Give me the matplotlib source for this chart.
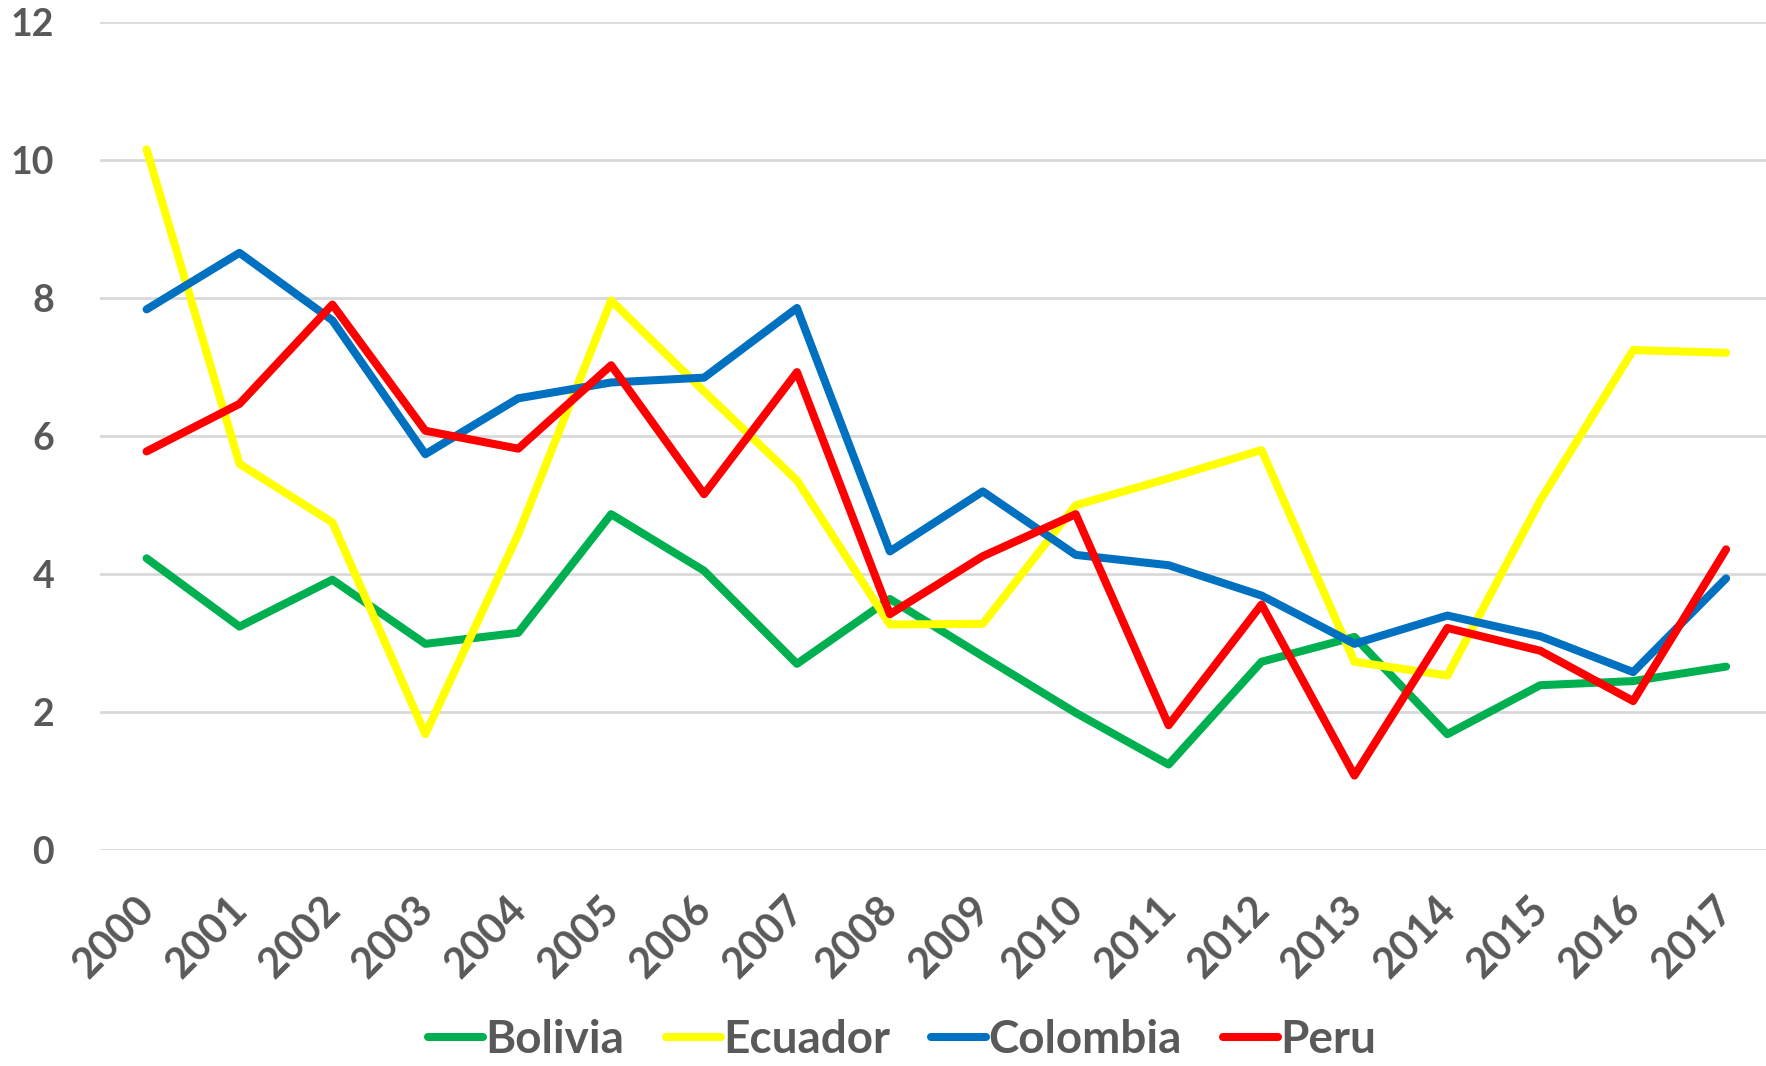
import matplotlib
matplotlib.use("Agg")
import matplotlib.pyplot as plt
import matplotlib.transforms as mtransforms

years = [str(y) for y in range(2000, 2018)]
bolivia = [4.23, 3.24, 3.92, 2.99, 3.15, 4.87, 4.05, 2.70, 3.64, 2.81, 1.99, 1.24, 2.73, 3.09, 1.68, 2.39, 2.45, 2.66]
ecuador = [10.16, 5.60, 4.75, 1.68, 4.58, 7.97, 6.65, 5.36, 3.27, 3.28, 5.00, 5.39, 5.80, 2.73, 2.53, 5.07, 7.25, 7.21]
colombia = [7.84, 8.66, 7.68, 5.74, 6.55, 6.78, 6.85, 7.86, 4.33, 5.20, 4.28, 4.13, 3.69, 2.99, 3.40, 3.10, 2.58, 3.94]
peru = [5.78, 6.47, 7.91, 6.08, 5.82, 7.03, 5.16, 6.93, 3.42, 4.26, 4.87, 1.81, 3.56, 1.08, 3.22, 2.89, 2.16, 4.36]

series = [("Bolivia", bolivia, "#00B050"),
          ("Ecuador", ecuador, "#FFFF00"),
          ("Colombia", colombia, "#0070C0"),
          ("Peru", peru, "#FF0000")]

plt.rcParams['font.family'] = ['Lato', 'DejaVu Sans']
fig = plt.figure(figsize=(17.66, 10.66), dpi=100)
ax = fig.add_axes([0.0567, 0.2026, 0.947, 0.7763])

x = list(range(len(years)))
for name, vals, col in series:
    ax.plot(x, vals, color=col, lw=5.8, solid_capstyle='round', solid_joinstyle='round', label=name)

ax.set_xlim(-0.5, len(years) - 0.5)
ax.set_ylim(0, 12)
ax.set_yticks([0, 2, 4, 6, 8, 10, 12])
ax.set_xticks(x)
ax.set_xticklabels(years, rotation=45, ha='right', rotation_mode='anchor')
ax.grid(axis='y', color='#D9D9D9', lw=2)
ax.set_axisbelow(True)
for s in ax.spines.values():
    s.set_visible(False)
ax.tick_params(axis='both', length=0, labelcolor='#595959')
ax.tick_params(axis='y', pad=33, labelsize=27)
ax.tick_params(axis='x', pad=29, labelsize=30)
offset = mtransforms.ScaledTranslation(-12 / 100, 0, fig.dpi_scale_trans)
for lab in ax.get_xticklabels():
    lab.set_fontweight('bold')
    lab.set_transform(lab.get_transform() + offset)
for lab in ax.get_yticklabels():
    lab.set_fontweight('bold')
    lab.set_horizontalalignment('right')

leg = fig.legend(loc='lower center', bbox_to_anchor=(0.511, -0.034), ncol=4, frameon=False,
                 handlelength=1.2, handletextpad=0.05, columnspacing=0.9,
                 prop={'size': 33, 'weight': 'bold'})
for t in leg.get_texts():
    t.set_color('#595959')

fig.savefig("out.png", dpi=100)
